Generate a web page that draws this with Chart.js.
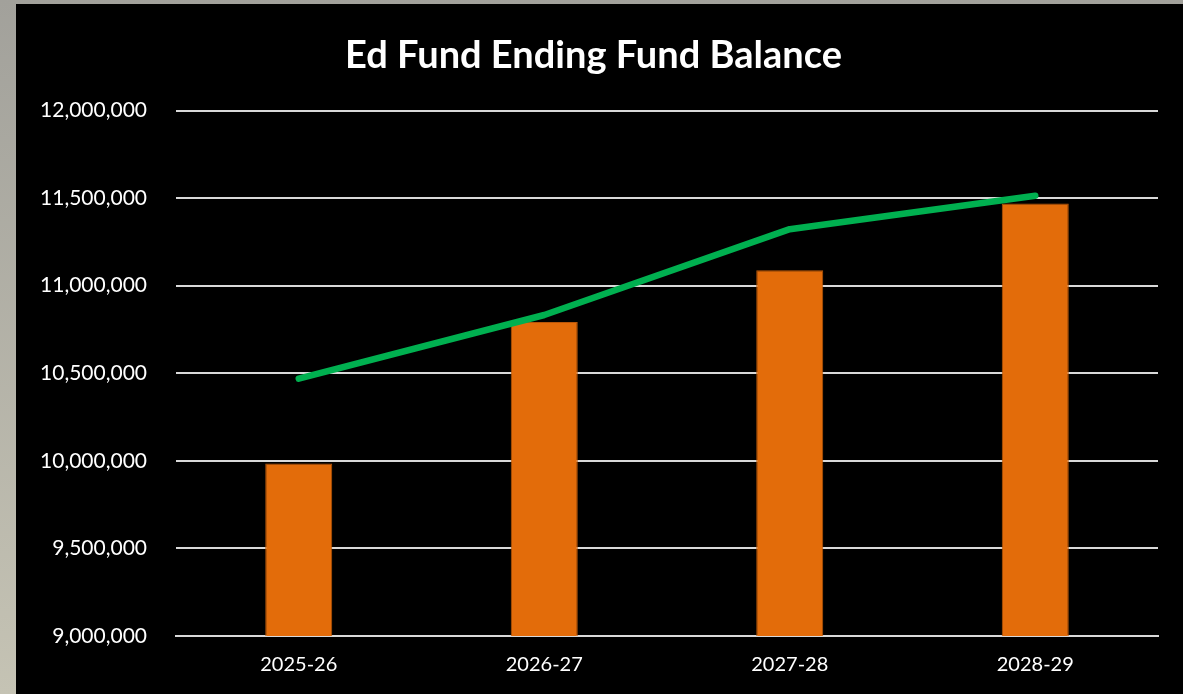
<!DOCTYPE html>
<html>
<head>
<meta charset="utf-8">
<script src="https://cdn.jsdelivr.net/npm/chart.js@4/dist/chart.umd.min.js"></script>
<style>
  html, body { margin: 0; padding: 0; }
  body {
    width: 1183px; height: 694px; overflow: hidden;
    background: linear-gradient(to bottom, #a2a19b, #c5c3b4);
  }
  #wrap { position: absolute; left: 16px; top: 4px; width: 1167px; height: 690px; background: #000; }
</style>
</head>
<body>
<div id="wrap"><canvas id="chart" width="1167" height="690"></canvas></div>
<script>
var years = ['2025-26', '2026-27', '2027-28', '2028-29'];
var balance = [9985000, 10793000, 11089000, 11469000];
var trend = [10469000, 10833000, 11323000, 11514000];

var font = 'Lato, "Open Sans", sans-serif';

new Chart(document.getElementById('chart'), {
    type: 'bar',
    data: {
        labels: years,
        datasets: [{
            type: 'line',
            data: trend,
            borderColor: '#00b050',
            borderWidth: 6.5,
            borderCapStyle: 'round',
            borderJoinStyle: 'round',
            pointRadius: 0,
            tension: 0,
            order: 0
        }, {
            data: balance,
            backgroundColor: '#e36c0a',
            borderColor: '#b85608',
            borderWidth: 1,
            categoryPercentage: 1,
            barPercentage: 0.273,
            order: 1
        }]
    },
    options: {
        responsive: false,
        animation: false,
        layout: { padding: { left: 13, right: 25, bottom: 0 } },
        plugins: {
            legend: { display: false },
            tooltip: { enabled: false },
            title: {
                display: true,
                text: 'Ed Fund Ending Fund Balance',
                color: '#ffffff',
                font: { family: font, size: 38, weight: 'bold', lineHeight: 1.2 },
                padding: { top: 29, bottom: 32 }
            }
        },
        scales: {
            x: {
                grid: { display: false, drawTicks: false },
                border: { display: true, color: '#d9d9d9', width: 2 },
                ticks: { color: '#ffffff', font: { family: font, size: 20 }, padding: 17 }
            },
            y: {
                min: 9000000,
                max: 12000000,
                afterFit: function(scale) { scale.width = 147; },
                grid: { color: '#d9d9d9', lineWidth: 2, drawTicks: false },
                border: { display: false },
                ticks: {
                    stepSize: 500000,
                    color: '#ffffff',
                    padding: 29,
                    font: { family: font, size: 21 },
                    callback: function(v) { return v.toLocaleString('en-US'); }
                }
            }
        }
    }
});
</script>
</body>
</html>
